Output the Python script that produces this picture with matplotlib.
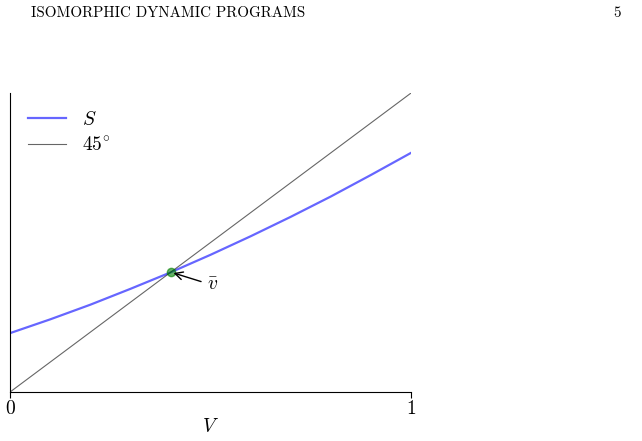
import matplotlib
matplotlib.use("Agg")
import matplotlib.pyplot as plt

plt.rcParams["mathtext.fontset"] = "cm"
plt.rcParams["font.family"] = "serif"
plt.rcParams["font.serif"] = ["cmr10", "DejaVu Serif"]
plt.rcParams["axes.unicode_minus"] = False

# values
v_grid = [0.0, 0.1, 0.2, 0.3, 0.4, 0.5, 0.6, 0.7, 0.8, 0.9, 1.0]
S_vals = [0.197, 0.243, 0.292, 0.345, 0.400, 0.459, 0.521, 0.586, 0.654, 0.726, 0.800]
line45 = [0.0, 1.0]
v_bar = 0.401
tick_vals = [0, 1]
tick_labels = ["$0$", "$1$"]

fig = plt.figure(figsize=(6.42, 4.41), dpi=100)
ax = fig.add_axes([0.0156, 0.111, 0.6246, 0.678])

ax.plot(v_grid, S_vals, color="blue", lw=1.6, alpha=0.6, label="$S$")
ax.plot(line45, line45, color="black", lw=0.8, alpha=0.6, label="$45^{\\circ}$")
ax.plot([v_bar], [v_bar], "o", color="green", ms=6, alpha=0.6)
ax.annotate("$\\bar v$", xy=(v_bar, v_bar), xytext=(0.49, 0.358),
            fontsize=14, va="center",
            arrowprops=dict(arrowstyle="->", color="black", lw=1))

ax.set_xlim(0, 1)
ax.set_ylim(0, 1)
ax.spines["top"].set_visible(False)
ax.spines["right"].set_visible(False)
ax.set_yticks([])
ax.set_xticks(tick_vals)
ax.set_xticklabels(tick_labels, fontsize=14)
ax.tick_params(axis="x", length=4, pad=2)
ax.set_xlabel("$V$", fontsize=14, labelpad=0)

ax.legend(loc="upper left", frameon=False, fontsize=14,
          handlelength=2.0, handletextpad=0.8, borderaxespad=0.5,
          labelspacing=0.4)

fig.text(0.049, 0.97, "ISOMORPHIC DYNAMIC PROGRAMS", fontsize=10.8,
         va="center", ha="left", family="cmr10")
fig.text(0.967, 0.97, "5", fontsize=10.8, va="center", ha="right", family="cmr10")

fig.savefig("out.png", dpi=100)
